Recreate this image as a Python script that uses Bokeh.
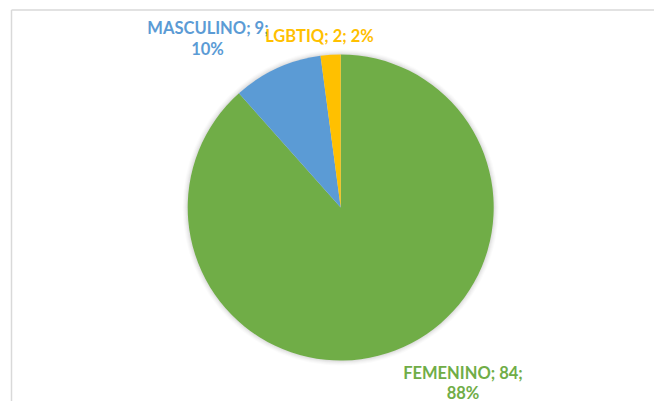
import math
from bokeh.plotting import figure
from bokeh.models import Range1d
from bokeh.core.properties import value
from bokeh.embed import file_html
from bokeh.resources import INLINE

# ---- data ----
categories = ["FEMENINO", "MASCULINO", "LGBTIQ"]
counts = [84, 9, 2]
pct_labels = ["88%", "10%", "2%"]
colors = ["#70AD47", "#5B9BD5", "#FFC000"]

# ---- layout (pixel-like data units, y up) ----
W, H = 654, 401
cx, cy, R = 340.2, 194.0, 153.0
# label line positions (x, baseline y) for each category
label_pos = {
    "FEMENINO": [(462.5, 29.0), (462.5, 9.0)],
    "MASCULINO": [(207.5, 374.0), (207.0, 353.0)],
    "LGBTIQ": [(319.0, 366.0)],
}

p = figure(width=W, height=H, output_backend="svg", toolbar_location=None,
           x_range=Range1d(0, W), y_range=Range1d(0, H),
           min_border=0, outline_line_color=None)
p.axis.visible = False
p.grid.visible = False
p.background_fill_color = "white"
p.border_fill_color = "white"

# chart-area frame (left and top edges visible)
fx, fy = 11, 391.5
p.segment(x0=[fx, fx], y0=[fy, fy], x1=[fx, W + 5], y1=[-5, fy],
          line_color="#d9d9d9", line_width=1.5)

# soft shadow
for k, a in [(5, 0.03), (4, 0.04), (3, 0.05), (2, 0.07), (1, 0.09)]:
    p.circle(x=[cx], y=[cy], radius=R + k, fill_color="#808080", fill_alpha=a, line_color=None)

total = sum(counts)
start = math.pi / 2
starts, ends = [], []
for c in counts:
    ang = c / total * 2 * math.pi
    starts.append(start - ang)
    ends.append(start)
    start -= ang

p.wedge(x=[cx] * 3, y=[cy] * 3, radius=R, start_angle=starts, end_angle=ends,
        direction="anticlock", fill_color=colors, line_color=None)

for cat, cnt, pct, col in zip(categories, counts, pct_labels, colors):
    pos = label_pos[cat]
    if len(pos) == 2:
        lines = [f"{cat}; {cnt};", pct]
    else:
        lines = [f"{cat}; {cnt}; {pct}"]
    for (lx, ly), t in zip(pos, lines):
        p.text(x=[lx], y=[ly], text=[t], text_color=col, text_align="center",
               text_baseline="alphabetic", text_font=value("Lato"),
               text_font_style="bold", text_font_size="16.5px")

open("out.html", "w").write(file_html(p, INLINE))
